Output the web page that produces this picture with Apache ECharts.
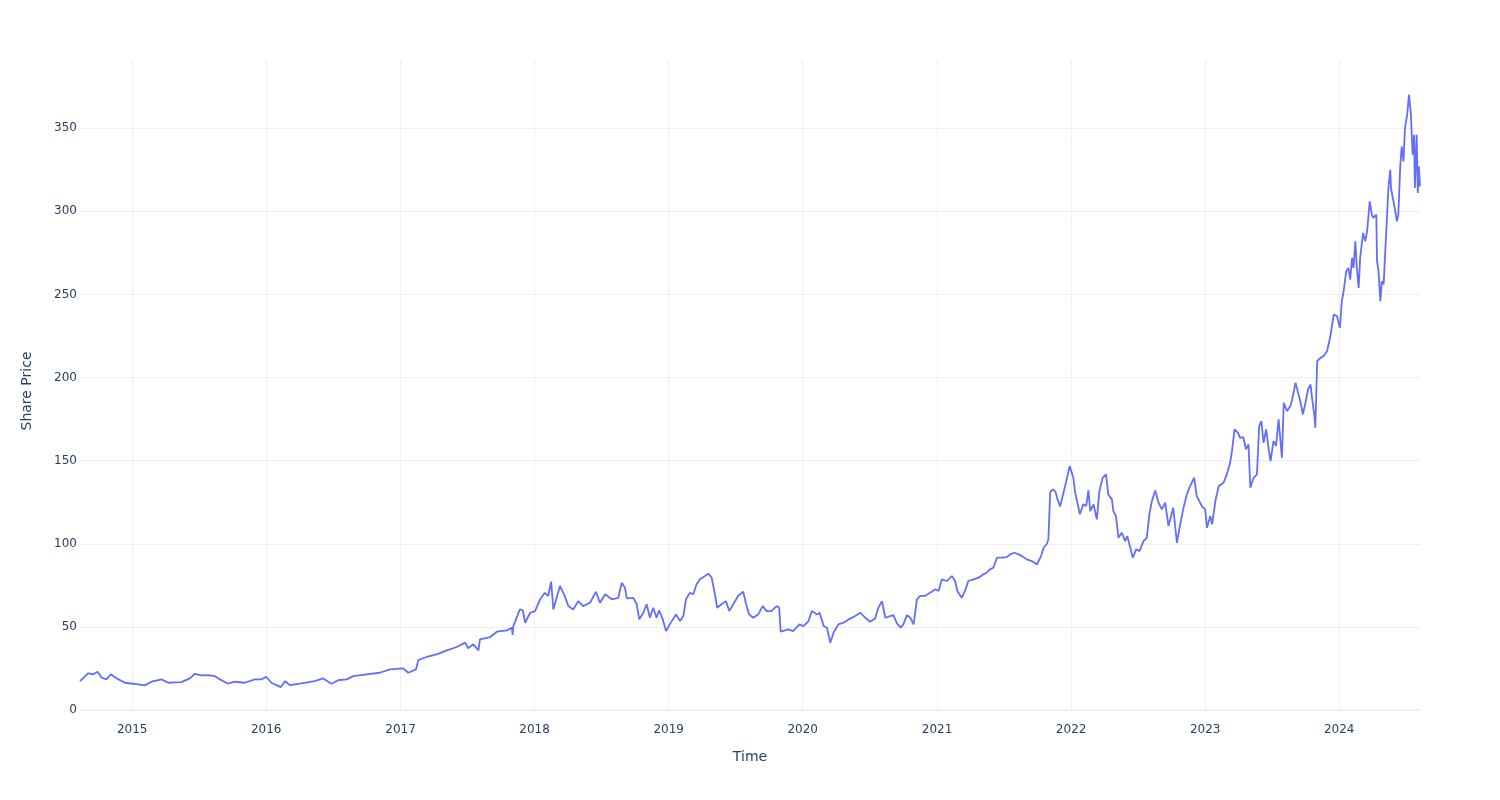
<!DOCTYPE html>
<html>
<head>
<meta charset="utf-8">
<script src="https://cdn.jsdelivr.net/npm/echarts@6/dist/echarts.min.js"></script>
<style>html,body{margin:0;padding:0;background:#fff;}#chart{width:1500px;height:800px;}</style>
</head>
<body>
<div id="chart"></div>
<script>
const xTitle = 'Time';
const yTitle = 'Share Price';
const dates = [
'2014-08-12','2014-09-03','2014-09-17','2014-09-29','2014-10-10','2014-10-23','2014-11-04','2014-11-20','2014-12-12',
'2015-01-04','2015-02-04','2015-02-23','2015-03-22','2015-04-09','2015-05-15','2015-06-07','2015-06-21','2015-07-09','2015-07-27','2015-08-14','2015-08-28','2015-09-19','2015-10-08','2015-11-04','2015-12-01','2015-12-19',
'2016-01-01','2016-01-15','2016-02-10','2016-02-22','2016-03-05','2016-04-06','2016-05-12','2016-06-04','2016-06-27','2016-07-15','2016-08-07','2016-08-25','2016-09-30','2016-11-05','2016-12-03',
'2017-01-08','2017-01-22','2017-02-12','2017-02-18','2017-03-13','2017-04-09','2017-05-07','2017-06-03','2017-06-26','2017-07-04','2017-07-18','2017-08-01','2017-08-05','2017-09-02','2017-09-20','2017-10-17','2017-10-31','2017-11-02','2017-11-04','2017-11-22','2017-11-30','2017-12-06','2017-12-20',
'2018-01-02','2018-01-16','2018-01-29','2018-02-07','2018-02-15','2018-02-21','2018-03-11','2018-03-22','2018-04-03','2018-04-16','2018-04-30','2018-05-13','2018-06-01','2018-06-17','2018-06-28','2018-07-12','2018-07-30','2018-08-17','2018-08-26','2018-09-04','2018-09-09','2018-09-27','2018-10-06','2018-10-13','2018-10-24','2018-11-02','2018-11-11','2018-11-20','2018-11-29','2018-12-06','2018-12-16','2018-12-25',
'2019-01-04','2019-01-21','2019-02-01','2019-02-10','2019-02-17','2019-02-28','2019-03-09','2019-03-18','2019-03-27','2019-04-10','2019-04-19','2019-04-28','2019-05-07','2019-05-13','2019-05-25','2019-06-06','2019-06-15','2019-06-26','2019-07-09','2019-07-23','2019-07-30','2019-08-08','2019-08-19','2019-09-02','2019-09-14','2019-09-25','2019-10-08','2019-10-22','2019-10-29','2019-11-02','2019-11-23','2019-12-06','2019-12-23',
'2020-01-03','2020-01-17','2020-01-26','2020-02-09','2020-02-16','2020-02-27','2020-03-07','2020-03-16','2020-03-25','2020-04-07','2020-04-21','2020-05-05','2020-05-18','2020-06-06','2020-06-19','2020-07-03','2020-07-16','2020-07-25','2020-08-04','2020-08-13','2020-08-26','2020-09-04','2020-09-14','2020-09-24','2020-10-01','2020-10-11','2020-10-20','2020-10-29','2020-11-07','2020-11-16','2020-11-29','2020-12-13','2020-12-27',
'2021-01-05','2021-01-14','2021-01-28','2021-02-10','2021-02-19','2021-02-25','2021-03-09','2021-03-18','2021-03-27','2021-04-10','2021-04-24','2021-05-07','2021-05-16','2021-05-25','2021-06-03','2021-06-13','2021-06-26','2021-07-10','2021-07-19','2021-07-30','2021-08-11','2021-08-24','2021-09-02','2021-09-16','2021-09-30','2021-10-04','2021-10-11','2021-10-18','2021-10-27','2021-10-31','2021-11-05','2021-11-12','2021-11-19','2021-11-25','2021-12-02','2021-12-11','2021-12-19','2021-12-28',
'2022-01-07','2022-01-12','2022-01-25','2022-02-03','2022-02-11','2022-02-17','2022-02-22','2022-03-03','2022-03-12','2022-03-19','2022-03-28','2022-04-06','2022-04-12','2022-04-22','2022-04-26','2022-05-03','2022-05-10','2022-05-19','2022-05-28','2022-06-03','2022-06-11','2022-06-18','2022-06-27','2022-07-06','2022-07-17','2022-07-26','2022-08-02','2022-08-09','2022-08-18','2022-08-27','2022-09-05','2022-09-14','2022-09-23','2022-09-29','2022-10-06','2022-10-16','2022-10-25','2022-11-03','2022-11-12','2022-11-23','2022-12-02','2022-12-09','2022-12-23',
'2023-01-01','2023-01-06','2023-01-15','2023-01-20','2023-01-29','2023-02-07','2023-02-20','2023-03-01','2023-03-10','2023-03-15','2023-03-22','2023-03-31','2023-04-06','2023-04-15','2023-04-22','2023-04-29','2023-05-04','2023-05-13','2023-05-22','2023-05-28','2023-06-03','2023-06-09','2023-06-16','2023-06-23','2023-06-28','2023-07-06','2023-07-13','2023-07-20','2023-07-25','2023-07-29','2023-08-03','2023-08-12','2023-08-21','2023-08-27','2023-09-04','2023-09-08','2023-09-17','2023-09-24','2023-10-01','2023-10-08','2023-10-15','2023-10-19','2023-10-26','2023-10-28','2023-11-02','2023-11-11','2023-11-20','2023-11-29','2023-12-08','2023-12-17','2023-12-26',
'2024-01-03','2024-01-08','2024-01-13','2024-01-20','2024-01-26','2024-01-31','2024-02-05','2024-02-09','2024-02-14','2024-02-18','2024-02-23','2024-02-27','2024-03-06','2024-03-12','2024-03-17','2024-03-24','2024-03-30','2024-04-03','2024-04-11','2024-04-13','2024-04-17','2024-04-22','2024-04-26','2024-05-01','2024-05-05','2024-05-10','2024-05-14','2024-05-19','2024-05-21','2024-05-26','2024-06-01','2024-06-06','2024-06-10','2024-06-15','2024-06-19','2024-06-24','2024-06-28','2024-07-04','2024-07-09','2024-07-14','2024-07-16','2024-07-19','2024-07-23','2024-07-25','2024-07-30','2024-08-02','2024-08-05','2024-08-08'
];
const prices = [
17.4,22.0,21.5,23.0,19.4,18.4,21.5,19.0,16.4,
15.8,14.8,17.0,18.4,16.4,16.8,19.0,21.8,20.8,21.0,20.4,18.4,15.8,17.0,16.4,18.4,18.4,
20.0,16.4,13.8,17.4,15.0,16.0,17.4,19.0,15.8,17.9,18.4,20.4,21.4,22.4,24.4,
25.0,22.4,24.4,30.0,31.9,33.5,35.9,37.9,40.5,37.1,39.5,35.9,42.5,43.9,47.1,47.9,49.5,45.1,50.5,60.5,60.0,52.5,58.5,
59.5,66.6,70.5,68.6,77.2,60.5,74.6,69.6,62.5,60.5,65.5,62.5,64.5,71.1,64.5,69.6,66.6,67.5,76.5,73.5,67.2,67.5,63.6,54.5,58.5,63.6,55.5,61.5,55.5,60.0,54.5,47.5,
51.5,57.5,53.5,56.5,66.6,70.5,69.6,75.6,78.6,80.6,82.0,79.6,69.6,61.5,63.6,65.5,59.5,63.6,68.6,71.1,64.5,57.5,55.5,57.5,62.5,59.5,59.5,62.5,61.5,47.1,48.5,47.5,51.5,
50.5,53.5,59.5,57.5,58.5,50.5,49.5,40.5,46.5,51.5,52.5,54.5,55.9,58.5,55.5,53.1,55.0,61.5,65.5,55.5,56.5,57.1,51.9,49.5,51.5,57.1,55.5,51.5,66.6,68.6,68.6,70.5,72.6,
71.6,78.6,77.6,80.6,77.6,71.6,67.5,71.6,77.6,78.6,79.6,81.6,82.6,84.6,85.6,91.6,91.6,92.0,93.6,94.6,93.6,92.0,90.6,89.6,87.6,86.6,92.6,97.6,100.0,102.6,131.0,132.7,131.5,126.7,122.5,130.5,138.0,146.7,
139.7,130.7,117.7,123.7,122.7,132.1,119.7,123.7,114.7,131.7,139.7,141.7,129.7,126.7,119.7,116.7,103.6,106.6,101.6,104.6,97.6,91.6,96.6,95.6,101.6,103.6,117.7,125.7,132.1,124.7,120.7,124.7,110.7,115.7,121.6,100.6,111.7,121.6,129.7,135.7,139.7,128.7,122.7,
120.7,109.6,116.7,111.7,126.0,134.7,136.7,141.7,148.7,155.7,168.8,166.8,163.7,164.2,156.8,159.8,133.7,139.7,141.7,170.8,173.8,160.7,168.8,156.8,149.7,161.8,158.8,174.8,175.8,151.7,184.8,179.8,182.8,187.8,196.8,195.8,185.8,177.8,184.8,192.8,195.8,187.8,175.8,169.8,209.9,211.8,212.9,215.9,225.0,237.9,236.9,
229.9,245.9,251.9,263.9,265.9,258.9,271.9,265.9,282.0,265.9,253.9,271.9,287.0,282.0,288.0,306.0,298.0,296.0,298.0,270.0,264.0,245.9,258.0,256.0,274.0,296.0,314.0,325.0,314.0,308.0,301.0,294.0,298.0,326.0,339.0,330.0,350.0,358.0,370.0,359.0,359.0,334.0,346.0,314.0,346.0,311.0,327.0,315.0
];
const yMin = 0, yMax = 391, yStep = 50;

const chart = echarts.init(document.getElementById('chart'), null, {renderer: 'canvas'});
const textColor = '#2a3f5f';
const gridColor = '#ebf0f8';
chart.setOption({
  animation: false,
  backgroundColor: '#ffffff',
  textStyle: {fontFamily: 'DejaVu Sans'},
  grid: {left: 80, right: 80, top: 60, bottom: 90, containLabel: false},
  xAxis: {
    type: 'time',
    min: dates[0],
    max: dates[dates.length - 1],
    minInterval: 365 * 24 * 3600 * 1000,
    maxInterval: 366 * 24 * 3600 * 1000,
    name: xTitle,
    nameLocation: 'middle',
    nameGap: 40,
    nameTextStyle: {color: textColor, fontSize: 14, fontFamily: 'DejaVu Sans'},
    axisLine: {show: true, lineStyle: {color: gridColor, width: 2}},
    axisTick: {show: false},
    axisLabel: {color: textColor, fontSize: 12, margin: 14, formatter: '{yyyy}', fontFamily: 'DejaVu Sans'},
    splitLine: {show: true, showMinLine: false, showMaxLine: false, lineStyle: {color: gridColor, width: 1}}
  },
  yAxis: {
    type: 'value',
    min: yMin, max: yMax, interval: yStep,
    name: yTitle,
    nameLocation: 'middle',
    nameGap: 46,
    nameTextStyle: {color: textColor, fontSize: 14, fontFamily: 'DejaVu Sans', padding: [0, 12, 0, 0]},
    axisLine: {show: false},
    axisTick: {show: false},
    axisLabel: {color: textColor, fontSize: 12, margin: 3, fontFamily: 'DejaVu Sans',
      showMaxLabel: false,
      formatter: v => (v % yStep === 0 ? String(v) : '')},
    splitLine: {show: true, showMaxLine: false, lineStyle: {color: gridColor, width: 1}}
  },
  series: [{
    type: 'line',
    data: dates.map((d, i) => [d, prices[i]]),
    showSymbol: false,
    symbol: 'none',
    lineStyle: {color: '#636efa', width: 1.8},
    itemStyle: {color: '#636efa'}
  }]
});
</script>
</body>
</html>
